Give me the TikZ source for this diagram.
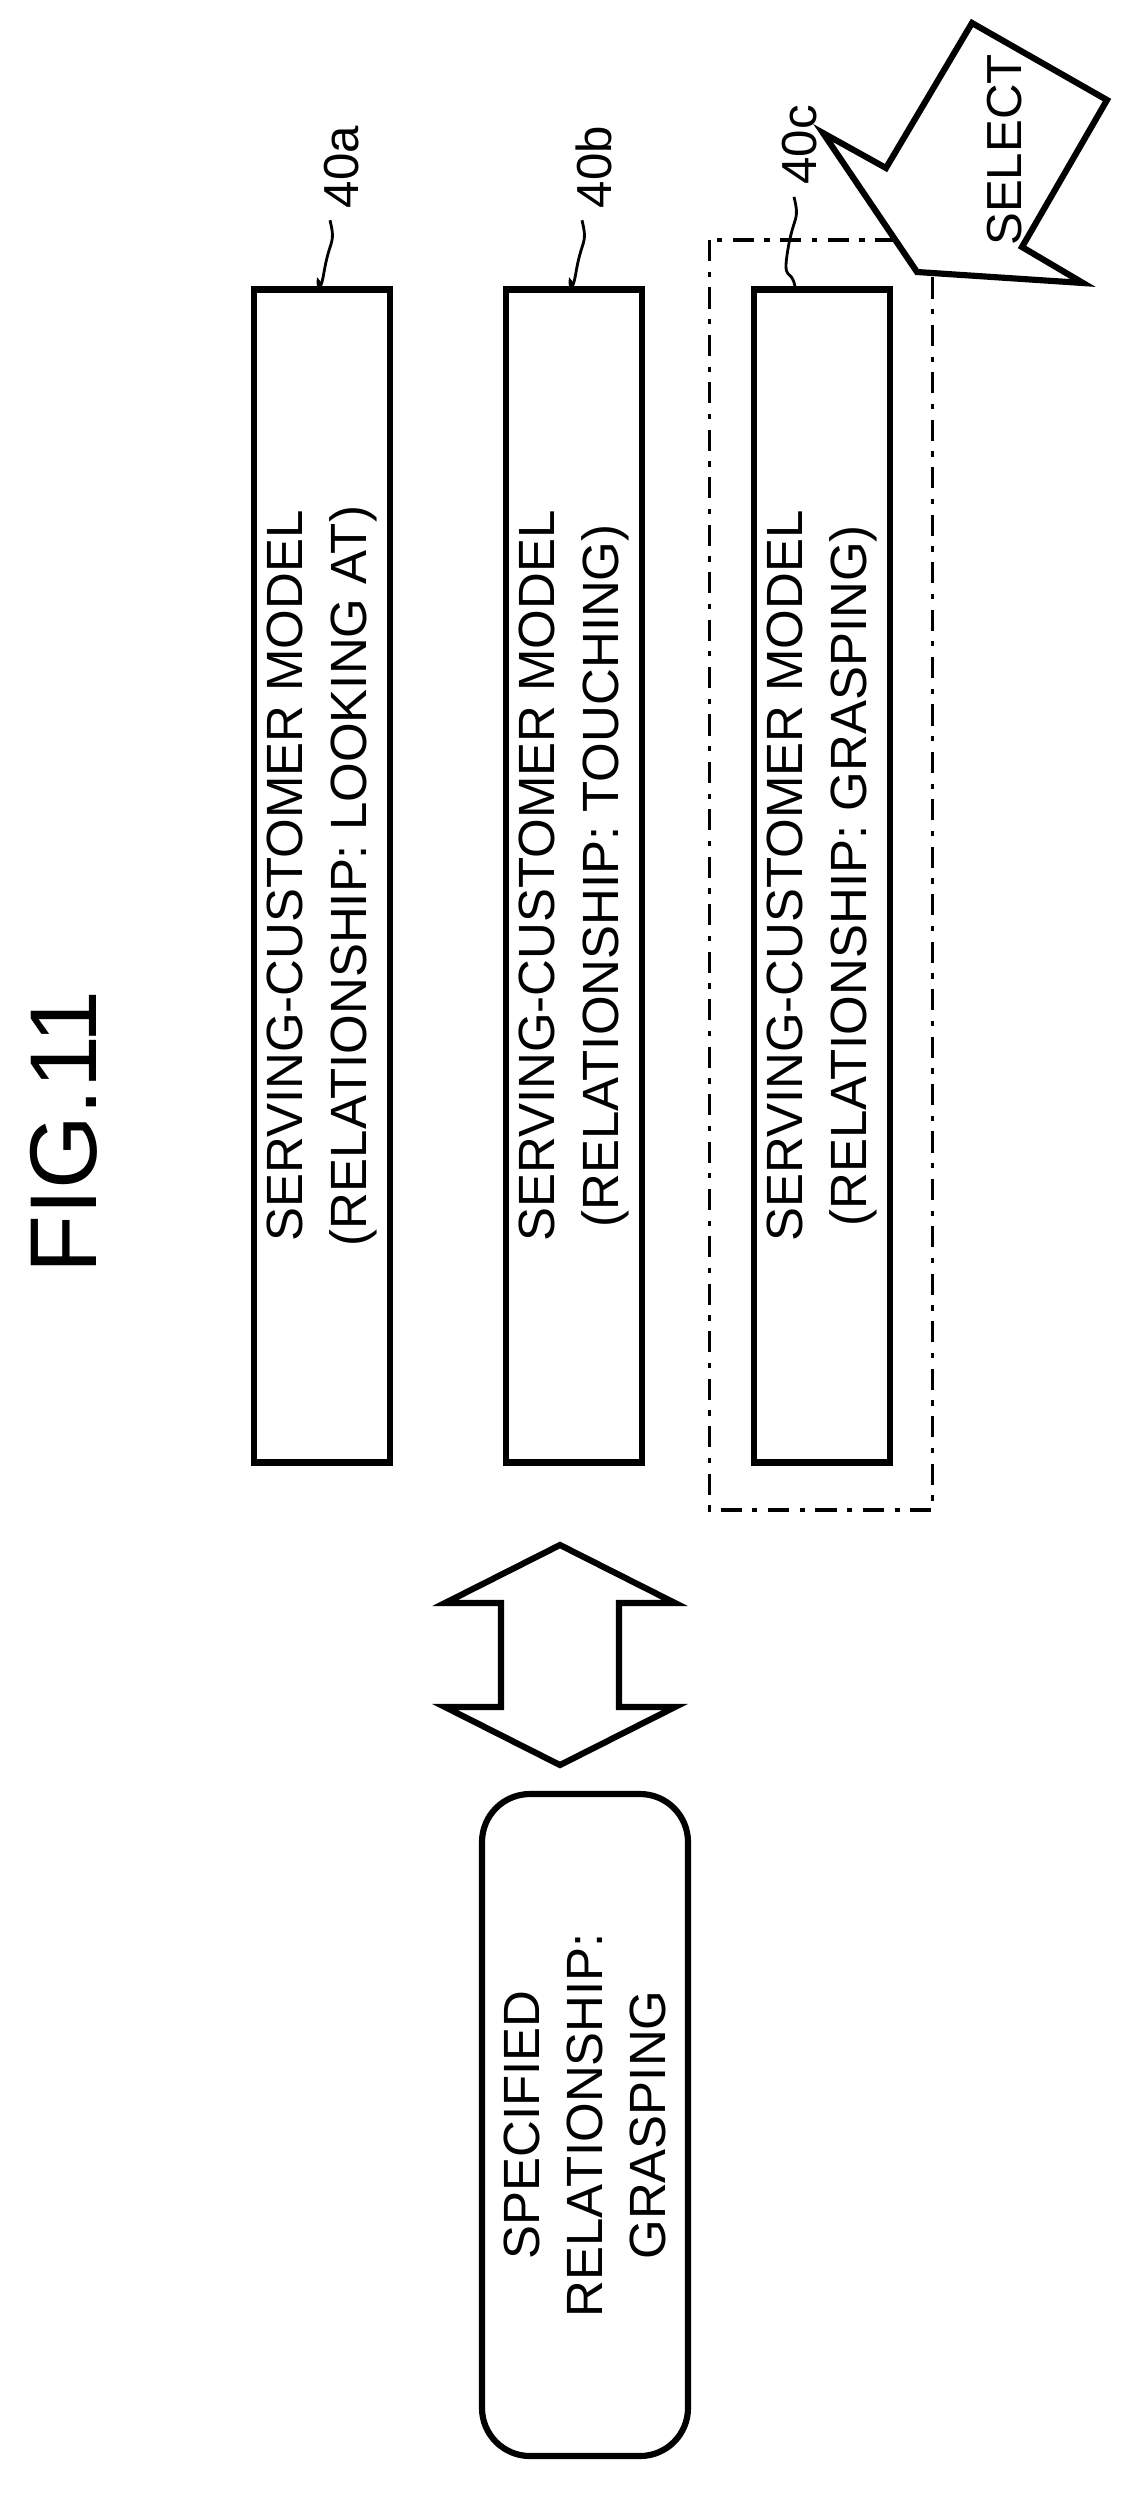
\documentclass[tikz,border=0pt]{standalone}
\usepackage{fontspec}
\setmainfont{Liberation Sans}
\usetikzlibrary{positioning}
\tikzset{
    model/.style={draw,line width=3.5pt,minimum width=234.6mm,minimum height=27.2mm,rotate=90,align=center,font=\fontsize{29}{36}\selectfont},
    ref/.style={rotate=90,font=\fontsize{28}{30}\selectfont},
    leader/.style={line width=1.6pt},
    outline/.style={draw,line width=3.5pt,line join=miter,fill=white},
}
\begin{document}
\begin{tikzpicture}[x=0.2mm,y=-0.2mm]
\useasboundingbox (0,0) rectangle (1129,2500);
% title
\node[rotate=90,font=\fontsize{54}{60}\selectfont] (title) at (64,1132) {FIG.11};
% models
\node[dash pattern=on 12pt off 6pt on 3pt off 6pt,draw,line width=1.8pt,minimum width=254mm,minimum height=44.6mm,rotate=90] (sel) at (821,875) {};
\node[model] (ma) at (322,876) {SERVING-CUSTOMER MODEL\\(RELATIONSHIP: LOOKING AT)};
\node[model] (mb) at (574,876) {SERVING-CUSTOMER MODEL\\(RELATIONSHIP: TOUCHING)};
\node[model] (mc) at (822,876) {SERVING-CUSTOMER MODEL\\(RELATIONSHIP: GRASPING)};
% reference labels
\node[ref] (la) at (342,167) {40a};
\node[ref] (lb) at (594,167) {40b};
\node[ref] (lc) at (800,145) {40c};
\draw[leader] (la.west) ++(-12,6) .. controls +(6,25) and +(6,-35) .. ++(-6,52) .. controls +(-6,35) and +(-4,-20) .. (ma.east -| 320,0);
\draw[leader] (lb.west) ++(-12,6) .. controls +(6,25) and +(6,-35) .. ++(-6,52) .. controls +(-6,35) and +(-4,-20) .. (mb.east -| 572,0);
\draw[leader] (lc.west) ++(-6,6) .. controls +(6,25) and +(6,-35) .. ++(-6,52) .. controls +(-6,35) and +(-4,-20) .. (mc.east -| 795,0);
% select arrow
\draw[outline] (823,133) -- (886,168) -- (972,23) -- (1107,100) -- (1022,247) -- (1083,283) -- (917,272) -- cycle;
\node[ref] (select) at (1005,150) {SELECT};
% double arrow
\draw[outline] (560,1545) -- (675,1603) -- (619,1603) -- (619,1707) -- (675,1707) -- (560,1765) -- (445,1707) -- (501,1707) -- (501,1603) -- (445,1603) -- cycle;
% specified relationship
\node[draw,line width=3.5pt,rounded corners=9.6mm,minimum width=132.4mm,minimum height=41.2mm,rotate=90,align=center,font=\fontsize{29}{36}\selectfont] (spec) at (585,2125) {SPECIFIED\\RELATIONSHIP:\\GRASPING};
\end{tikzpicture}
\end{document}
